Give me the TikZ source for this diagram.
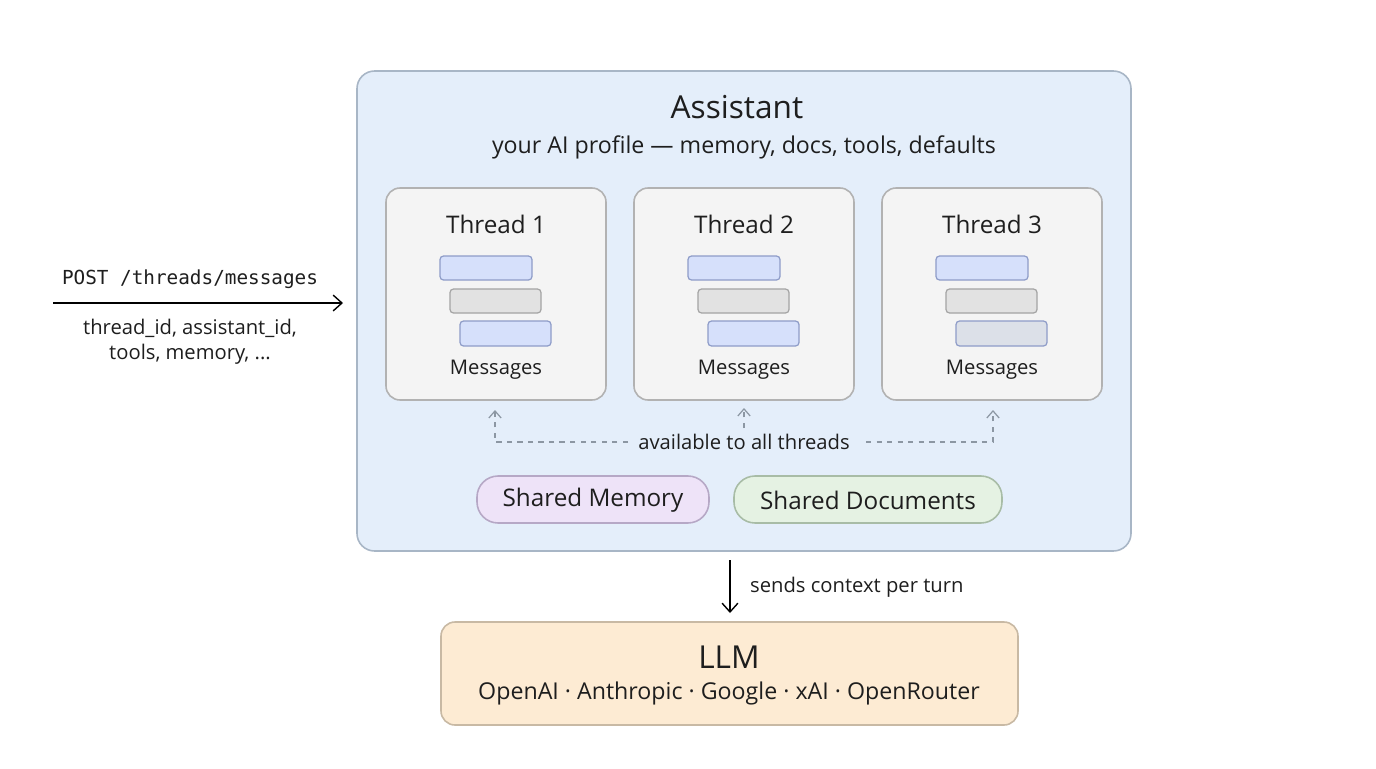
\documentclass[tikz,border=0pt]{standalone}
\usepackage{fontspec}
\setmainfont{Open Sans}
\newfontfamily\monof{DejaVu Sans Mono}
\usetikzlibrary{arrows.meta}
\definecolor{asfill}{HTML}{E4EEFA}
\definecolor{asdraw}{HTML}{A8B6C6}
\definecolor{thfill}{HTML}{F4F4F4}
\definecolor{thdraw}{HTML}{B2B2B2}
\definecolor{bblue}{HTML}{D6E0FB}
\definecolor{bbluedr}{HTML}{8E9CC8}
\definecolor{bgray}{HTML}{E2E2E2}
\definecolor{bgraydr}{HTML}{A4A4A4}
\definecolor{bslate}{HTML}{DCE0E8}
\definecolor{memfill}{HTML}{EEE3F8}
\definecolor{memdraw}{HTML}{B6A8C6}
\definecolor{docfill}{HTML}{E5F2E3}
\definecolor{docdraw}{HTML}{A8BCA6}
\definecolor{llmfill}{HTML}{FDEBD3}
\definecolor{llmdraw}{HTML}{C8B9A4}
\definecolor{txt}{HTML}{1E1E1E}
\definecolor{dash}{HTML}{8C97A3}
\begin{document}
\begin{tikzpicture}[x=0.02cm,y=-0.02cm,
  box/.style={draw=#1,line width=0.9pt,rounded corners=8pt},
  bar/.style={rounded corners=2pt,line width=0.7pt},
  dsh/.style={draw=dash,dashed,line width=0.7pt},
  every node/.style={text=txt}]
\useasboundingbox[fill=white] (0,0) rectangle (1376,768);
% Assistant
\draw[box=asdraw,fill=asfill,rounded corners=10pt] (357,71) rectangle (1131,551);
\node[font=\fontsize{18}{20}\selectfont] (at) at (737,107) {Assistant};
\node[font=\fontsize{13.2}{15}\selectfont] (as) at (744,147) {your AI profile — memory, docs, tools, defaults};
% threads
\foreach \i/\x/\c in {1/386/bblue,2/634/bblue,3/882/bslate}{
  \draw[box=thdraw,fill=thfill] (\x,188) rectangle ++(220,212);
  \node[font=\fontsize{13.8}{15}\selectfont] (t\i) at (\x+110,224) {Thread \i};
  \draw[bar,fill=bblue,draw=bbluedr] (\x+54,256) rectangle ++(92,24);
  \draw[bar,fill=bgray,draw=bgraydr] (\x+64,289) rectangle ++(91,24);
  \draw[bar,fill=\c,draw=bbluedr] (\x+74,321) rectangle ++(91,25);
  \node[font=\fontsize{11.5}{13}\selectfont] (m\i) at (\x+110,370) {Messages};
}
% dashed arrows
\node[font=\fontsize{11.5}{13}\selectfont] (av) at (744,442) {available to all threads};
\coordinate (l0) at (628,442); \coordinate (l1) at (495,442); \coordinate (l2) at (495,410);
\coordinate (r0) at (866,442); \coordinate (r1) at (993,442); \coordinate (r2) at (993,410);
\coordinate (c1) at (744,428); \coordinate (c2) at (744,408);
\draw[dsh,-{Straight Barb[length=4pt,width=7pt]}] (l0) -- (l1) -- (l2);
\draw[dsh,-{Straight Barb[length=4pt,width=7pt]}] (r0) -- (r1) -- (r2);
\draw[dsh,-{Straight Barb[length=4pt,width=7pt]}] (c1) -- (c2);
% shared
\draw[draw=memdraw,fill=memfill,line width=0.9pt,rounded corners=12pt] (477,476) rectangle (709,523);
\node[font=\fontsize{13.8}{15}\selectfont] (sm) at (593,500) {Shared Memory};
\draw[draw=docdraw,fill=docfill,line width=0.9pt,rounded corners=12pt] (734,476) rectangle (1002,523);
\node[font=\fontsize{13.8}{15}\selectfont] (sd) at (868,500) {Shared Documents};
% LLM
\draw[box=llmdraw,fill=llmfill] (441,622) rectangle (1018,725);
\node[font=\fontsize{18}{20}\selectfont] (llm) at (729,657) {LLM};
\node[font=\fontsize{13.2}{15}\selectfont] (ls) at (729,693) {OpenAI · Anthropic · Google · xAI · OpenRouter};
\coordinate (d0) at (730,560); \coordinate (d1) at (730,613);
\draw[line width=0.8pt,-{Straight Barb[length=5pt,width=9pt]}] (d0) -- (d1);
\node[font=\fontsize{11.5}{13}\selectfont,anchor=west] (sc) at (744,587) {sends context per turn};
% left
\node[font=\monof\fontsize{11}{12}\selectfont] (post) at (190,279) {POST /threads/messages};
\coordinate (p0) at (53,303); \coordinate (p1) at (343,303);
\draw[line width=0.8pt,-{Straight Barb[length=5pt,width=9pt]}] (p0) -- (p1);
\node[font=\fontsize{11.5}{14}\selectfont,align=center] (pl) at (190,342) {thread\_id, assistant\_id,\\tools, memory, ...};
\end{tikzpicture}
\end{document}
